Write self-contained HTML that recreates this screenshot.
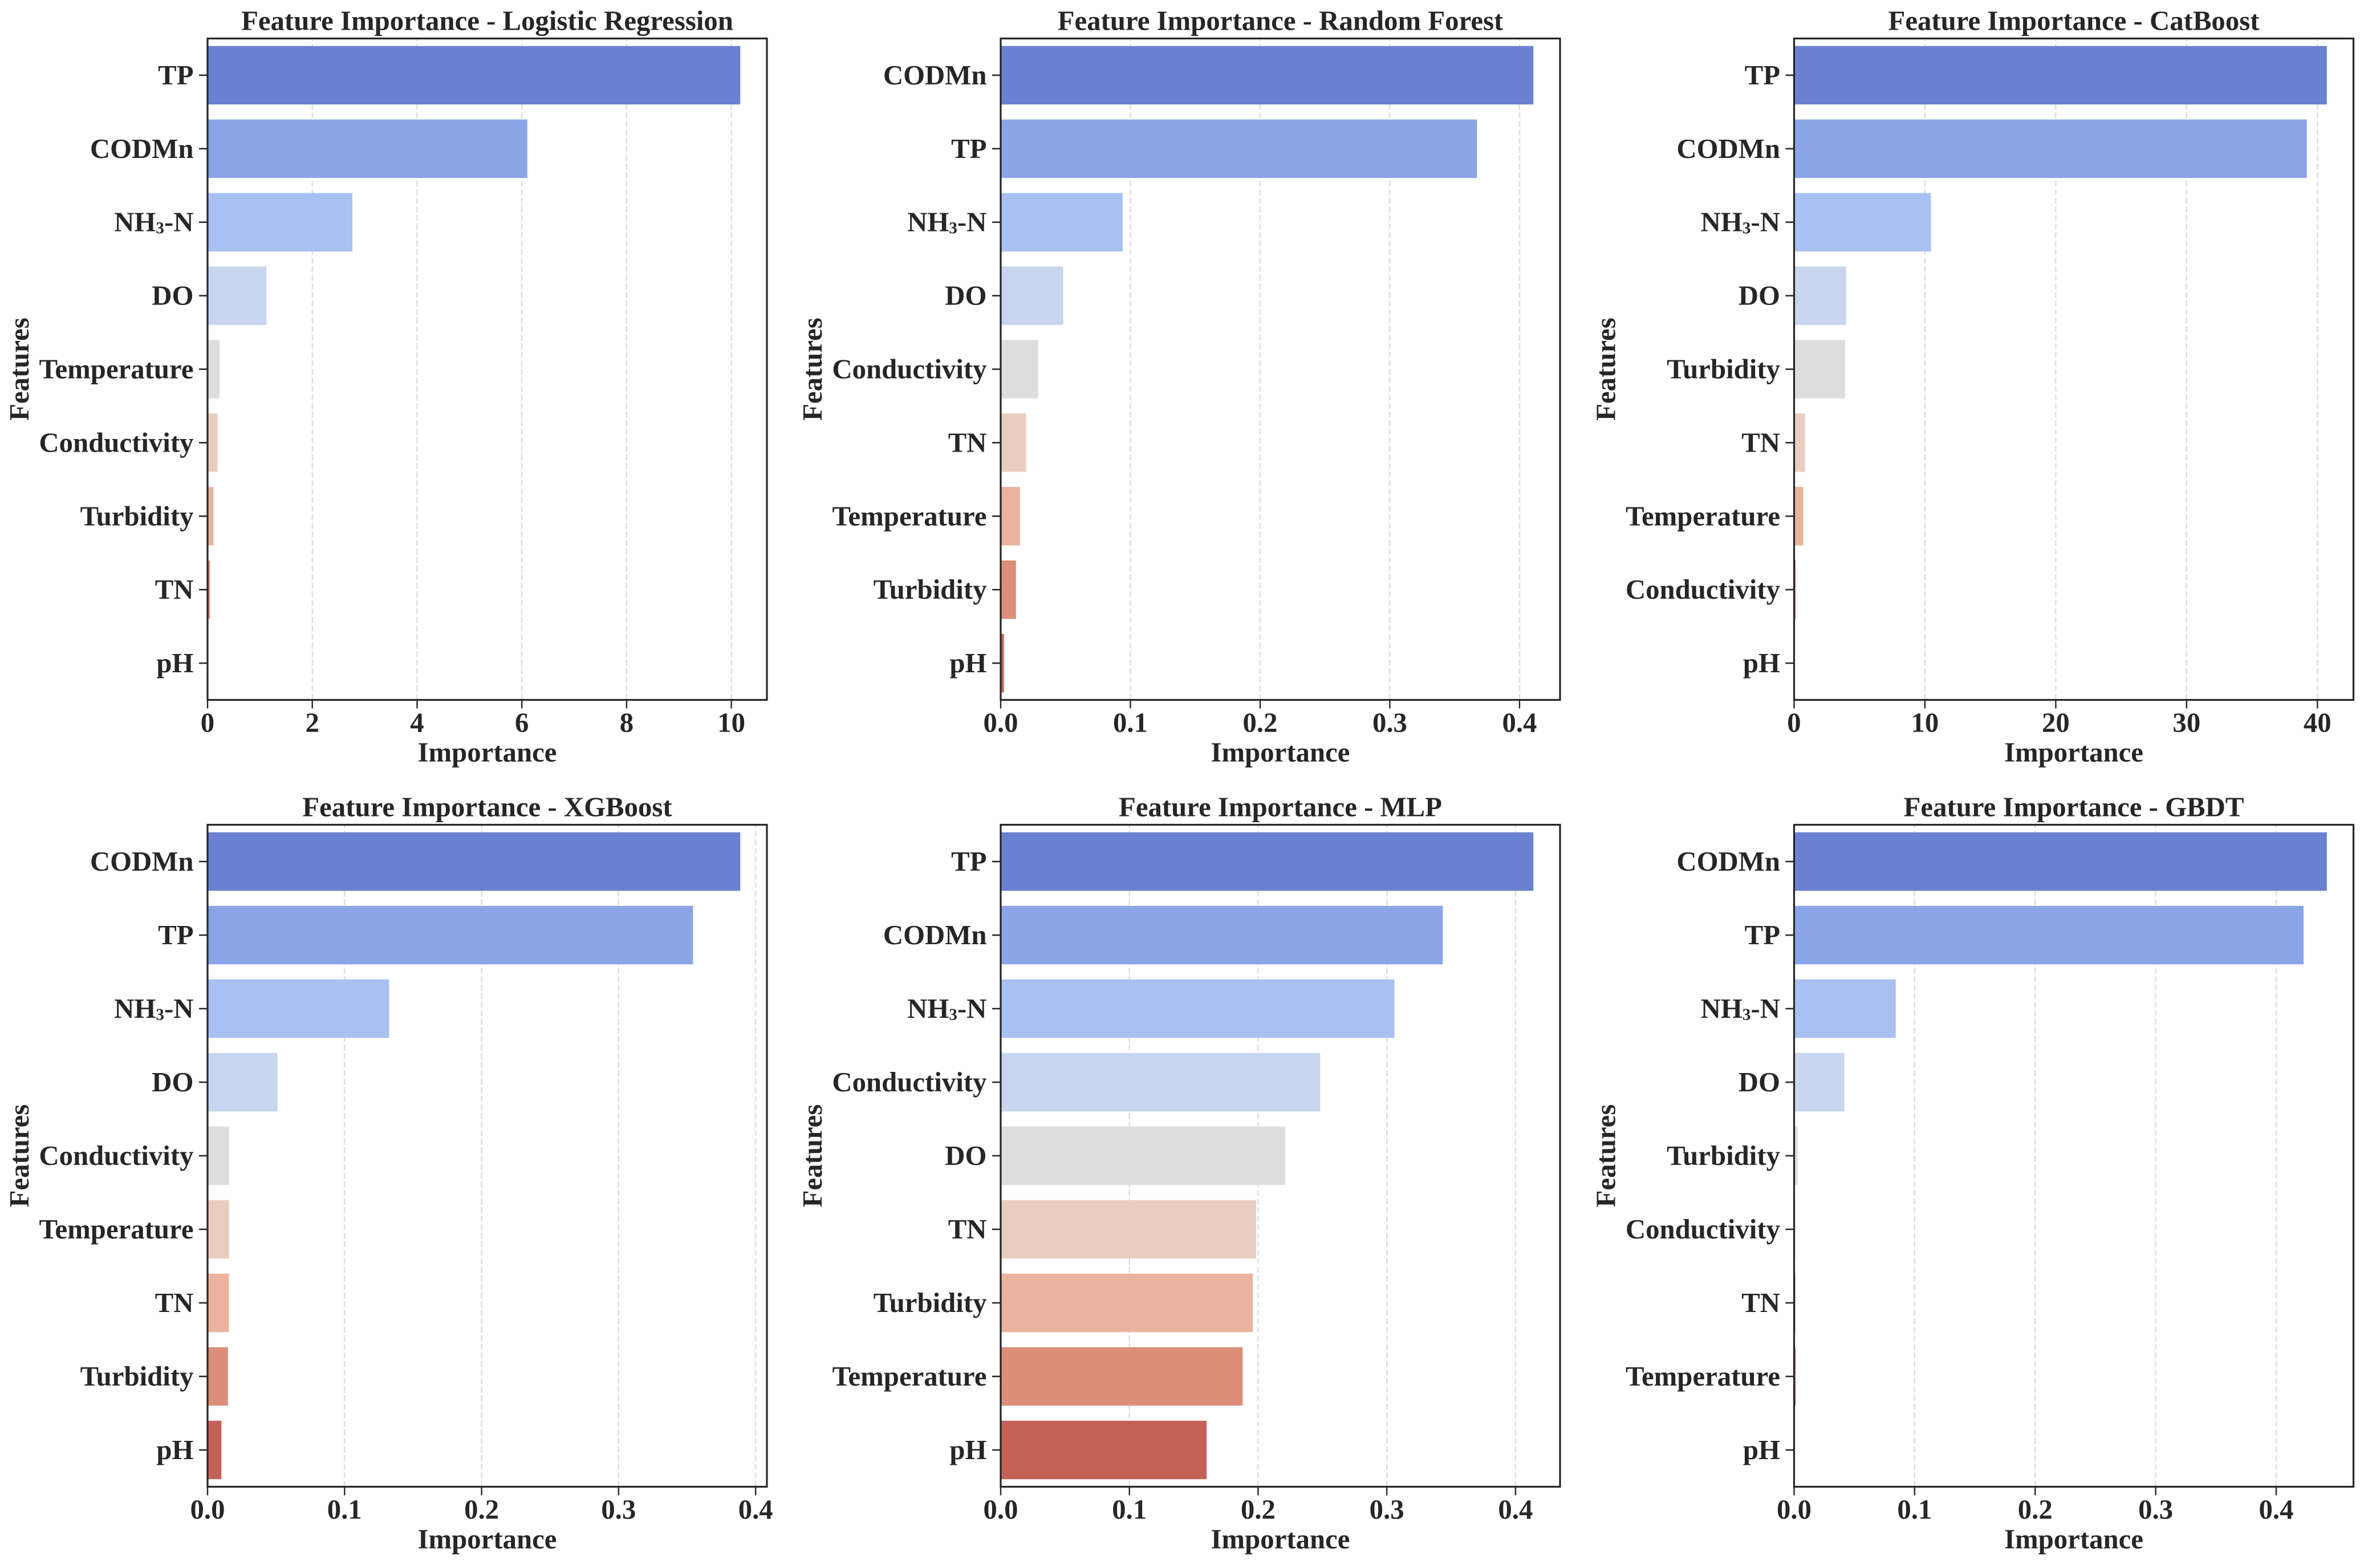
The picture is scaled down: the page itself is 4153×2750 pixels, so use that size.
<!DOCTYPE html>
<html lang="en">
<head>
<meta charset="utf-8">
<title>Feature Importance by Model</title>
<style>
  html, body { margin: 0; padding: 0; background: #ffffff; }
  svg { display: block; }
  text { font-family: "Liberation Serif", "DejaVu Serif", serif; font-weight: 700; fill: #262626; font-size: 48.8px; font-kerning: normal; }
</style>
</head>
<body>
<svg id="figure" xmlns="http://www.w3.org/2000/svg" width="4153" height="2750" viewBox="0 0 4153 2750">
  <rect x="0" y="0" width="4153" height="2750" fill="#ffffff"></rect>
</svg>
<script>
// ---- chart data ----
const lrFeatures = ['TP', 'CODMn', 'NH₃-N', 'DO', 'Temperature', 'Conductivity', 'Turbidity', 'TN', 'pH'];
const lrValues = [10.17, 6.105, 2.765, 1.125, 0.23, 0.19, 0.115, 0.046, 0.003];
const lrTicks = ['0', '2', '4', '6', '8', '10'];

const rfFeatures = ['CODMn', 'TP', 'NH₃-N', 'DO', 'Conductivity', 'TN', 'Temperature', 'Turbidity', 'pH'];
const rfValues = [0.4107, 0.3672, 0.094, 0.0482, 0.0289, 0.0196, 0.0149, 0.0118, 0.0025];
const rfTicks = ['0.0', '0.1', '0.2', '0.3', '0.4'];

const catFeatures = ['TP', 'CODMn', 'NH₃-N', 'DO', 'Turbidity', 'TN', 'Temperature', 'Conductivity', 'pH'];
const catValues = [40.72, 39.19, 10.46, 3.98, 3.9, 0.835, 0.7, 0.12, 0.002];
const catTicks = ['0', '10', '20', '30', '40'];

const xgbFeatures = ['CODMn', 'TP', 'NH₃-N', 'DO', 'Conductivity', 'Temperature', 'TN', 'Turbidity', 'pH'];
const xgbValues = [0.3888, 0.3543, 0.1325, 0.051, 0.0157, 0.0157, 0.0156, 0.0149, 0.0101];
const xgbTicks = ['0.0', '0.1', '0.2', '0.3', '0.4'];

const mlpFeatures = ['TP', 'CODMn', 'NH₃-N', 'Conductivity', 'DO', 'TN', 'Turbidity', 'Temperature', 'pH'];
const mlpValues = [0.4139, 0.3435, 0.3059, 0.2482, 0.2211, 0.1985, 0.1959, 0.188, 0.16];
const mlpTicks = ['0.0', '0.1', '0.2', '0.3', '0.4'];

const gbdtFeatures = ['CODMn', 'TP', 'NH₃-N', 'DO', 'Turbidity', 'Conductivity', 'TN', 'Temperature', 'pH'];
const gbdtValues = [0.442, 0.4227, 0.0843, 0.0417, 0.0028, 0.001, 0.0013, 0.0014, 0.0001];
const gbdtTicks = ['0.0', '0.1', '0.2', '0.3', '0.4'];

const modelNames = ['Logistic Regression', 'Random Forest', 'CatBoost', 'XGBoost', 'MLP', 'GBDT'];
const modelFeatures = [lrFeatures, rfFeatures, catFeatures, xgbFeatures, mlpFeatures, gbdtFeatures];
const modelValues = [lrValues, rfValues, catValues, xgbValues, mlpValues, gbdtValues];
const modelTicks = [lrTicks, rfTicks, catTicks, xgbTicks, mlpTicks, gbdtTicks];

const barPalette = ['#6981d0', '#8aa5e7', '#a9c0f2', '#c7d5ef', '#dddddd', '#eacdc1', '#e9b39d', '#dc8e78', '#c36157'];

// ---- layout ----
const SVG_NS = 'http://www.w3.org/2000/svg';
const figure = document.getElementById('figure');
const columnLefts = [364, 1755, 3146.5];
const rowTops = [67.5, 1446.5];
const rowHeights = [1160, 1161];
const plotWidth = 981;

function make(tag, attrs, parent, text) {
  const el = document.createElementNS(SVG_NS, tag);
  for (const key in attrs) el.setAttribute(key, attrs[key]);
  if (text !== undefined) el.textContent = text;
  parent.appendChild(el);
  return el;
}

function slug(s) {
  return s.toLowerCase().replace('₃', '3').replace(/[^a-z0-9]+/g, '-');
}

function writeCategory(label, feature) {
  const pos = feature.indexOf('₃');
  if (pos < 0) {
    label.textContent = feature;
    return;
  }
  // keep the subscript character as real text, lifted closer to the baseline
  label.appendChild(document.createTextNode(feature.slice(0, pos)));
  make('tspan', { dy: -6 }, label, '₃');
  make('tspan', { dy: 6 }, label, feature.slice(pos + 1));
}

function drawPanel(index) {
  const row = Math.floor(index / 3);
  const left = columnLefts[index % 3];
  const top = rowTops[row];
  const plotHeight = rowHeights[row];
  const right = left + plotWidth;
  const bottom = top + plotHeight;
  const features = modelFeatures[index];
  const values = modelValues[index];
  const ticks = modelTicks[index];
  const key = slug(modelNames[index]);

  const xMax = Math.max.apply(null, values) * 1.05;
  const xScale = function (v) { return left + (v / xMax) * plotWidth; };
  const band = plotHeight / features.length;
  const yScale = function (i) { return top + band * (i + 0.5); };

  const panel = make('g', {}, figure);
  
  

  // grid lines, drawn below the bars
  ticks.forEach(function (label) {
    const v = Number(label);
    if (v === 0) return;
    const x = xScale(v);
    const grid = make('line', { x1: x, x2: x, y1: bottom, y2: top, stroke: '#dedede', 'stroke-width': 2.4, 'stroke-dasharray': '10.5 4.5' }, panel);
    
    
  });

  // bars
  features.forEach(function (feature, i) {
    const h = band * 0.795;
    const bar = make('rect', { x: left, y: yScale(i) - h / 2, width: xScale(values[i]) - left, height: h, fill: barPalette[i] }, panel);
    
    
  });

  // y ticks and category labels
  features.forEach(function (feature, i) {
    const y = yScale(i);
    const tick = make('line', { x1: left - 15, x2: left, y1: y, y2: y, stroke: '#262626', 'stroke-width': 2.6 }, panel);
    
    
    const label = make('text', { x: left - 24.5, y: y + 16, 'text-anchor': 'end' }, panel);
    writeCategory(label, feature);
    
    
  });

  // x ticks and value labels
  ticks.forEach(function (text) {
    const x = xScale(Number(text));
    const tick = make('line', { x1: x, x2: x, y1: bottom, y2: bottom + 15, stroke: '#262626', 'stroke-width': 2.4 }, panel);
    
    
    const label = make('text', { x: x, y: bottom + 56, 'text-anchor': 'middle' }, panel, text);
    
    
  });

  // axes frame
  const frame = make('rect', { x: left, y: top, width: plotWidth, height: plotHeight, fill: 'none', stroke: '#262626', 'stroke-width': 3.2 }, panel);
  
  

  // titles
  const centerX = left + plotWidth / 2;
  const centerY = top + plotHeight / 2;
  const title = make('text', { x: centerX, y: top - 15, 'text-anchor': 'middle' }, panel, 'Feature Importance - ' + modelNames[index]);
  
  

  const xTitle = make('text', { x: centerX, y: bottom + 108, 'text-anchor': 'middle' }, panel, 'Importance');
  
  

  const yTitle = make('text', { x: 0, y: 0, 'text-anchor': 'middle', transform: 'translate(' + (left - 314) + ' ' + centerY + ') rotate(-90)' }, panel, 'Features');
  
  
}

modelNames.forEach(function (name, i) { drawPanel(i); });
</script>
</body>
</html>
